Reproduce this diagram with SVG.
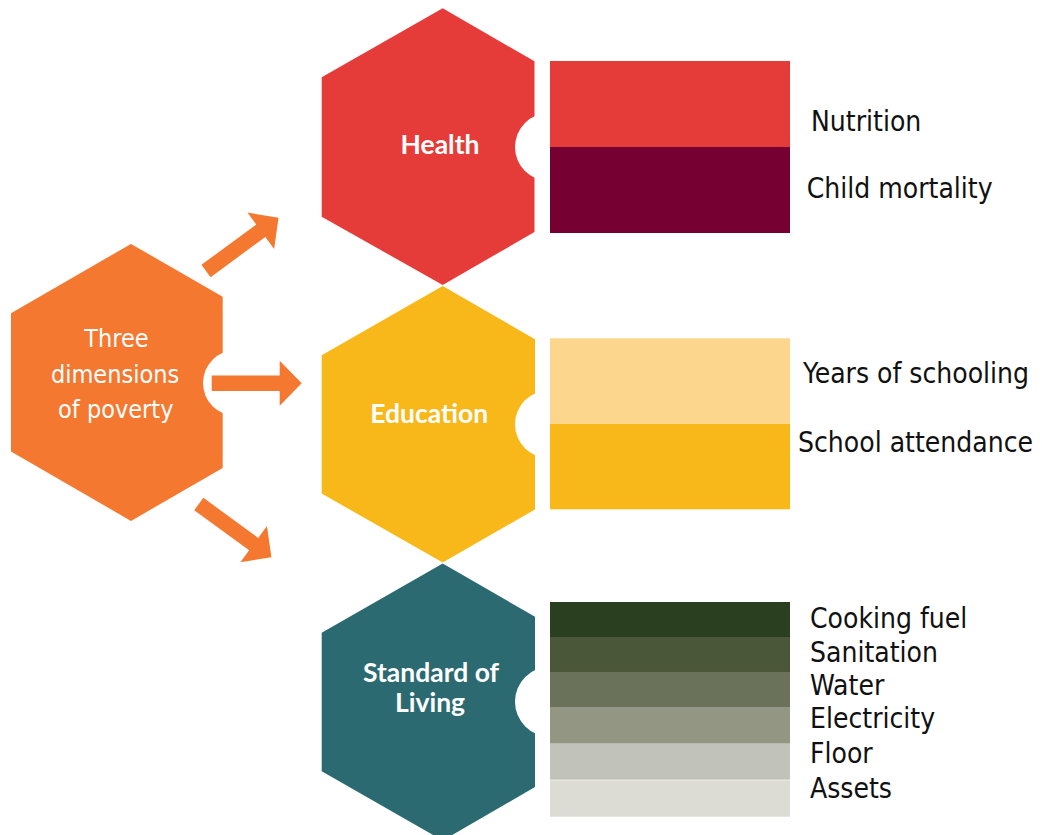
<svg xmlns="http://www.w3.org/2000/svg" xmlns:xlink="http://www.w3.org/1999/xlink" width="1042" height="835" viewBox="0 0 1042 835">
  <style>
    .hub-label { font-family: "DejaVu Sans Condensed", "DejaVu Sans", sans-serif; font-stretch: condensed; font-size: 25px; fill: #ffffff; text-anchor: middle; }
    .dim-label { font-family: Lato, "Open Sans", sans-serif; font-weight: bold; font-size: 26.5px; fill: #ffffff; text-anchor: middle; }
    .item { font-family: "DejaVu Sans Condensed", "DejaVu Sans", sans-serif; font-stretch: condensed; font-size: 28px; fill: #111111; }
    .notch { fill: #ffffff; }
    .arrow { fill: #f47830; }
  </style>
  <defs>
    <!-- block arrow pointing along +x, origin at the tail centre -->
    <path id="blockArrow" d="M0,-7.7 H68 V-22.5 L90,0 L68,22.5 V7.7 H0 Z"/>
  </defs>

  <rect width="1042" height="835" fill="#ffffff"/>

  <!-- central hub -->
  <g id="hub">
    <polygon points="131,243.9 222.7,296.8 222.7,468 131,520.9 11,451.6 11,313.2" fill="#f47830"/>
    <circle class="notch" cx="236" cy="383" r="33"/>
    <text class="hub-label" x="116.5" y="346.7">Three</text>
    <text class="hub-label" x="115" y="382.6">dimensions</text>
    <text class="hub-label" x="115.8" y="418">of poverty</text>
  </g>

  <!-- connectors from hub to the three dimensions -->
  <g id="connectors" class="arrow">
    <use xlink:href="#blockArrow" transform="translate(206,271) rotate(-36.3)"/>
    <use xlink:href="#blockArrow" transform="translate(211.7,383.3)"/>
    <use xlink:href="#blockArrow" transform="translate(198.8,504) rotate(36.2)"/>
  </g>

  <!-- Health -->
  <g id="health">
    <polygon points="442.7,8.3 534.5,61.3 534.5,232 442.7,285 321.7,216.7 321.7,77.3" fill="#e53c3a"/>
    <circle class="notch" cx="549" cy="147" r="34"/>
    <rect x="550" y="61" width="240" height="86" fill="#e53c3a"/>
    <rect x="550" y="147" width="240" height="86" fill="#760031"/>
    <text class="dim-label" x="440" y="154">Health</text>
    <text class="item" x="811" y="130.7">Nutrition</text>
    <text class="item" x="806.7" y="198.3">Child mortality</text>
  </g>

  <!-- Education -->
  <g id="education">
    <polygon points="442.7,286 535,339.2 535,509.4 442.7,562.6 321.7,493.5 321.7,355.2" fill="#f8b81a"/>
    <circle class="notch" cx="549" cy="424.3" r="34"/>
    <rect x="550" y="338.3" width="240" height="85.7" fill="#fdd68e"/>
    <rect x="550" y="424" width="240" height="85.3" fill="#f8b81a"/>
    <text class="dim-label" x="429.3" y="423.3">Education</text>
    <text class="item" x="803" y="383.3">Years of schooling</text>
    <text class="item" x="798" y="451.7">School attendance</text>
  </g>

  <!-- Standard of Living -->
  <g id="standard-of-living">
    <polygon points="442.7,563.5 535,616.8 535,787 442.7,840.5 321.7,771.2 321.7,632.8" fill="#2b6a70"/>
    <circle class="notch" cx="550" cy="701.7" r="35"/>
    <rect x="550" y="602" width="240" height="35" fill="#2a3f20"/>
    <rect x="550" y="637" width="240" height="35" fill="#4a5739"/>
    <rect x="550" y="672" width="240" height="35.7" fill="#6a7259"/>
    <rect x="550" y="707.7" width="240" height="36" fill="#939683"/>
    <rect x="550" y="743.7" width="240" height="36" fill="#c1c2b9"/>
    <rect x="550" y="780.3" width="240" height="36.4" fill="#dcdcd5"/>
    <text class="dim-label" x="431" y="681.7">Standard of</text>
    <text class="dim-label" x="430" y="711.7">Living</text>
    <text class="item" x="810" y="628.3">Cooking fuel</text>
    <text class="item" x="810" y="661.7">Sanitation</text>
    <text class="item" x="810" y="695">Water</text>
    <text class="item" x="810" y="728.3">Electricity</text>
    <text class="item" x="810" y="763.3">Floor</text>
    <text class="item" x="810" y="798.3">Assets</text>
  </g>
</svg>
